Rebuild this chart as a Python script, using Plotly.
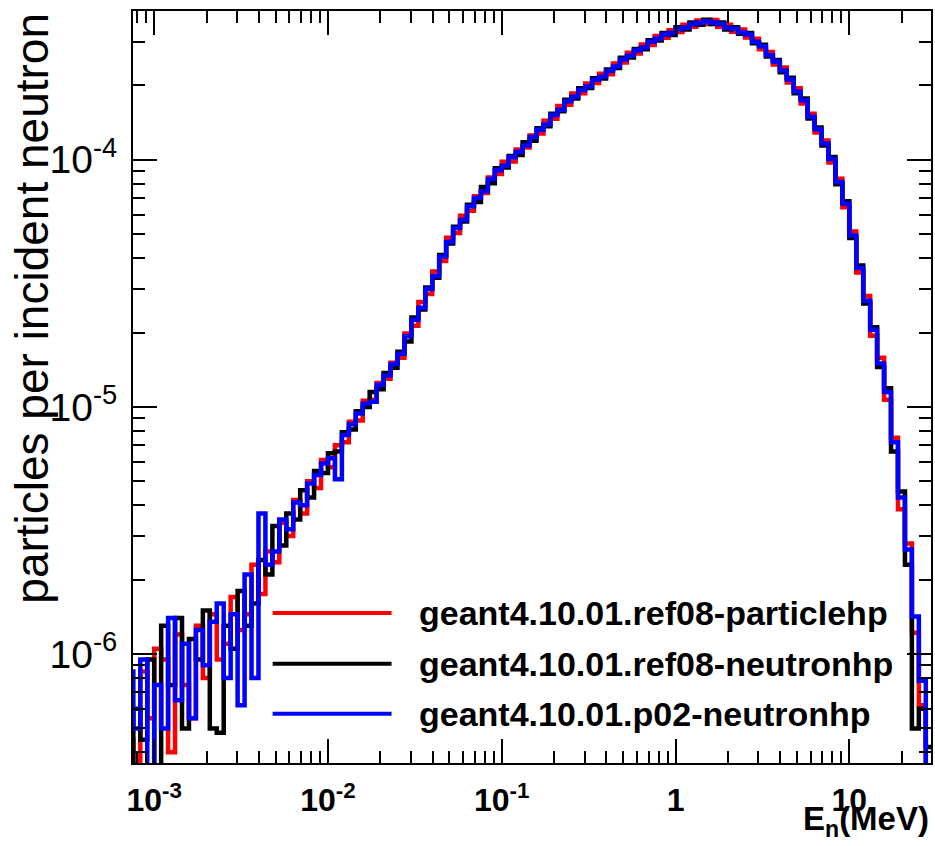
import numpy as np
import plotly.graph_objects as go

# ---- histogram binning (log-uniform bins in E_n, MeV) ----
log_lo, log_hi, nbins = -3.16, 1.48, 116

# ---- series (particles per incident neutron, in units of 1e-6) ----
names = ["geant4.10.01.ref08-particlehp",
         "geant4.10.01.ref08-neutronhp",
         "geant4.10.01.p02-neutronhp"]
colors = ["#ff0000", "#000000", "#0000ff"]

red_vals = [0.45, 0.30, 0.85, 0.55, 1.05, 0.95, 0.40, 1.20, 0.75, 0.55,
            1.30, 0.80, 1.45, 0.95, 1.10, 1.70, 1.25, 1.45, 2.30, 1.75,
            2.60, 2.35, 3.40, 3.00, 4.20, 3.70, 5.00, 4.70, 6.10, 5.70,
            7.00, 7.20, 8.70, 8.80, 10.6, 10.7, 12.5, 13.0, 15.1, 15.8,
            19.8, 21.3, 26.6, 28.6, 35.3, 38.9, 48.4, 50.6, 59.4, 62.2,
            71.2, 73.4, 84.7, 87.5, 98.2, 98.5, 110, 112, 125.5, 127.6,
            143.8, 146.4, 165, 167, 185.6, 185.8, 203.5, 204.5, 223, 222,
            245, 247.5, 271, 269, 292.5, 291.5, 317, 312, 334.5, 329,
            351.5, 345, 366, 354, 368, 345, 351.5, 330, 337, 312.5,
            308.5, 280, 273, 243, 236, 205.5, 194.5, 169, 153.5, 129,
            119.8, 97.6, 83.8, 64.3, 51.3, 35.0, 28.1, 19.4, 15.8, 10.7,
            7.5, 3.85, 2.80, 1.22, 0.62, 0.10]

black_vals = [0.30, 0.60, 0.45, 0.95, 0.32, 1.30, 0.75, 1.40, 0.50, 1.15,
              0.95, 1.50, 0.50, 0.48, 1.30, 1.05, 1.80, 1.30, 1.60, 2.40,
              2.10, 3.30, 2.75, 3.70, 3.50, 4.60, 4.30, 5.50, 5.40, 6.50,
              6.60, 7.90, 8.10, 9.60, 10.0, 11.5, 11.8, 13.7, 14.4, 16.7,
              18.4, 23.0, 24.8, 30.4, 33.3, 41.2, 45.8, 53.6, 56.3, 65.8,
              67.5, 77.6, 80.3, 92.3, 93.1, 103.5, 104.5, 117.8, 119.4, 134,
              136.8, 153.5, 157.2, 174.8, 177, 194.5, 195, 213.5, 213.4, 232,
              235, 258.6, 259.5, 281, 280, 304.5, 303.5, 326, 320, 343.5,
              337, 359.5, 352, 368.5, 354, 359, 337, 344, 323.5, 325.5,
              296, 292, 261.5, 253.5, 226, 214.6, 186, 177, 146.8, 135,
              114.2, 102.5, 79.6, 68.0, 48.2, 37.3, 26.2, 21.0, 14.5, 11.9,
              6.6, 4.55, 2.30, 0.50, 0.60, 0.42]

blue_vals = [0.85, 0.50, 0.95, 0.30, 0.75, 0.50, 1.40, 0.65, 1.10, 0.55,
             1.25, 0.90, 1.35, 1.60, 0.80, 1.45, 0.62, 2.10, 0.80, 3.70,
             2.30, 2.60, 3.50, 3.20, 4.10, 4.00, 4.90, 5.30, 5.90, 6.20,
             5.10, 7.70, 8.50, 9.40, 10.3, 10.5, 12.3, 13.4, 14.9, 16.4,
             19.3, 22.5, 25.2, 30.0, 33.8, 40.6, 46.5, 52.9, 57.1, 64.9,
             70.1, 74.6, 83.5, 90.6, 94.5, 102.3, 107.8, 114.2, 123.5, 132.2,
             139, 151.6, 159.5, 172.5, 180, 191.4, 198, 210.6, 216.8, 228.6,
             238.5, 254.8, 263.5, 276.8, 284.5, 300, 308.6, 321, 325.5, 338.2,
             342.4, 354, 357.3, 363.2, 359.5, 354.2, 342.3, 339, 328.4, 321,
             300.4, 287.7, 265.6, 249.8, 229.6, 211.5, 189, 174.2, 149.2, 133,
             116.3, 100.8, 81.2, 66.6, 49.4, 36.5, 26.9, 20.5, 15.0, 11.5,
             7.2, 4.3, 2.65, 1.42, 0.78, 0.30]

series = [red_vals, black_vals, blue_vals]

# ---- axis ticks ----
x_tickvals = [1e-3, 1e-2, 1e-1, 1, 10]
x_ticktext = ["<b>10<sup>-3</sup></b>", "<b>10<sup>-2</sup></b>",
              "<b>10<sup>-1</sup></b>", "<b>1</b>", "<b>10</b>"]
y_tickvals = [1e-6, 1e-5, 1e-4]
y_ticktext = ["10<sup>-6</sup>", "10<sup>-5</sup>", "10<sup>-4</sup>"]

x_range_log = [-3.122, 1.470]
y_range_log = [-6.441, -3.398]

edges = np.logspace(log_lo, log_hi, nbins + 1)

fig = go.Figure()
for name, vals, col in zip(names, series, colors):
    y = np.array(vals) * 1e-6
    fig.add_trace(go.Scatter(
        x=edges, y=np.append(y, y[-1]), mode="lines", name=name,
        line=dict(color=col, width=4.5, shape="hv"), showlegend=False))

minor_x = [m * 10.0 ** e for e in range(-4, 2) for m in range(2, 10)]
minor_y = [m * 10.0 ** e for e in range(-7, -3) for m in range(2, 10)]

axis_common = dict(showline=True, linecolor="black", linewidth=2,
                   mirror="allticks", ticks="inside", ticklen=24,
                   tickwidth=2, tickcolor="black", showgrid=False,
                   zeroline=False, tickmode="array")

fig.update_xaxes(type="log", range=x_range_log, tickvals=x_tickvals,
                 ticktext=x_ticktext, tickfont=dict(size=32),
                 ticklabelstandoff=8,
                 minor=dict(ticks="inside", ticklen=12, tickwidth=2,
                            tickcolor="black", tickmode="array",
                            tickvals=minor_x, showgrid=False),
                 **axis_common)
fig.update_yaxes(type="log", range=y_range_log, tickvals=y_tickvals,
                 ticktext=y_ticktext, tickfont=dict(size=39),
                 ticklabelstandoff=6,
                 minor=dict(ticks="inside", ticklen=12, tickwidth=2,
                            tickcolor="black", tickmode="array",
                            tickvals=minor_y, showgrid=False),
                 **axis_common)

# ---- legend drawn as line samples + text (ROOT TLegend style) ----
leg_x0, leg_x1, leg_tx = 0.175, 0.324, 0.356
leg_ys = [0.1995, 0.1321, 0.0656]
shapes, annotations = [], []
for name, col, ly in zip(names, colors, leg_ys):
    shapes.append(dict(type="line", xref="paper", yref="paper",
                       x0=leg_x0, x1=leg_x1, y0=ly, y1=ly,
                       line=dict(color=col, width=4)))
    annotations.append(dict(text="<b>" + name + "</b>", xref="paper",
                            yref="paper", x=leg_tx, y=ly, xanchor="left",
                            yanchor="middle", showarrow=False,
                            font=dict(size=34, color="black")))

annotations.append(dict(text="particles per incident neutron", xref="paper",
                        yref="paper", x=-0.127, y=0.605, textangle=-90,
                        xanchor="center", yanchor="middle", showarrow=False,
                        font=dict(size=46, color="black")))
annotations.append(dict(text="<b>E<sub>n</sub>(MeV)</b>", xref="paper",
                        yref="paper", x=1.0, y=-0.047, xanchor="right",
                        yanchor="top", showarrow=False,
                        font=dict(size=33, color="black")))

fig.update_layout(width=935, height=846,
                  margin=dict(l=133, r=2, t=11, b=83),
                  plot_bgcolor="white", paper_bgcolor="white",
                  font=dict(family="Liberation Sans", color="black"),
                  shapes=shapes, annotations=annotations, showlegend=False)

fig.write_html("out.html")
